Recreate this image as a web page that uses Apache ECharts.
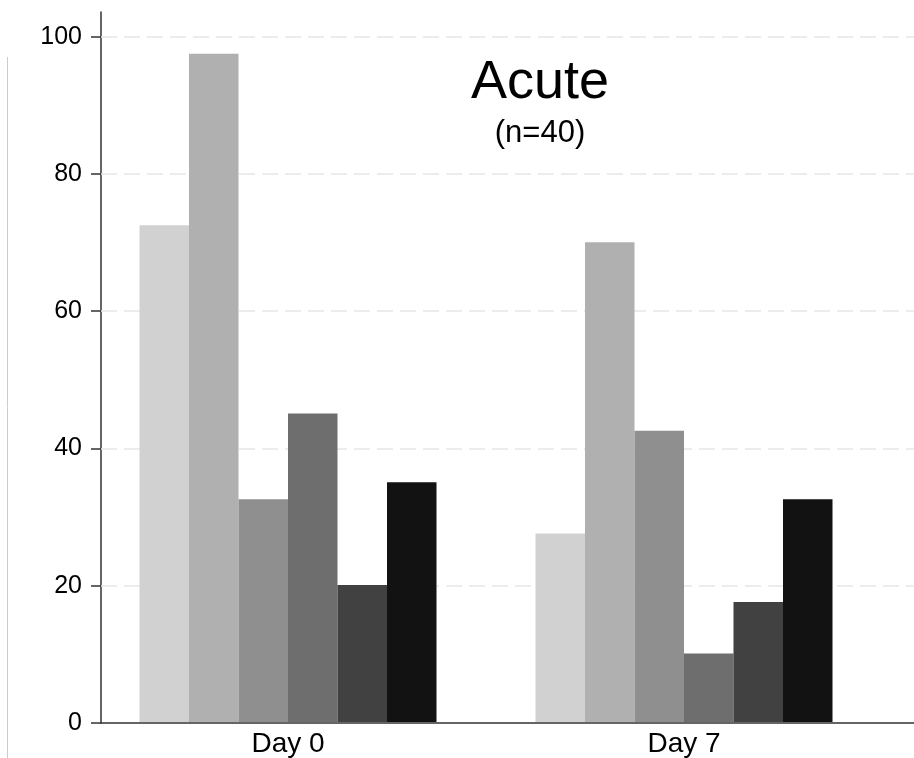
<!DOCTYPE html>
<html>
<head>
<meta charset="utf-8">
<script src="https://cdn.jsdelivr.net/npm/echarts@6/dist/echarts.min.js"></script>
<style>html,body{margin:0;padding:0;background:#fff}#c{width:914px;height:758px}</style>
</head>
<body>
<div id="c"></div>
<script>
const categories = ['Day 0', 'Day 7'];
const seriesNames = ['S1', 'S2', 'S3', 'S4', 'S5', 'S6'];
const s1 = [72.5, 27.5];
const s2 = [97.5, 70];
const s3 = [32.5, 42.5];
const s4 = [45, 10];
const s5 = [20, 17.5];
const s6 = [35, 32.5];
const yTicks = [0, 20, 40, 60, 80, 100];
const colors = ['#d1d1d1', '#b0b0b0', '#8f8f8f', '#6e6e6e', '#414141', '#121212'];
const seriesValues = [s1, s2, s3, s4, s5, s6];

const FONT = 'Liberation Sans, Arial, sans-serif';
const YMAX = 103.6;
const chart = echarts.init(document.getElementById('c'), null, {renderer: 'canvas'});

const barSeries = seriesValues.map((vals, i) => ({
  name: seriesNames[i],
  type: 'bar',
  xAxisIndex: 1,
  yAxisIndex: 1,
  z: 3,
  data: vals,
  barGap: '0%',
  barCategoryGap: '25%',
  itemStyle: {color: colors[i]}
}));

const gridSeries = {
  name: 'grid',
  type: 'line',
  xAxisIndex: 0,
  yAxisIndex: 0,
  z: 1,
  data: [],
  silent: true,
  markLine: {
    silent: true,
    symbol: 'none',
    z: 1,
    label: {show: false},
    lineStyle: {color: '#e6e6e6', type: [16, 7], width: 1.5},
    data: yTicks.filter(v => v > 0).map(v => ({yAxis: v}))
  }
};

chart.setOption({
  animation: false,
  backgroundColor: '#fff',
  title: {
    text: 'Acute',
    subtext: '(n=40)',
    left: 535,
    top: 51,
    textAlign: 'center',
    itemGap: 8,
    textStyle: {fontFamily: FONT, fontSize: 54, fontWeight: 'normal', color: '#000'},
    subtextStyle: {fontFamily: FONT, fontSize: 31, color: '#000'}
  },
  grid: [
    {left: 101, right: 0, top: 12, bottom: 35},
    {left: 90, right: 32, top: 12, bottom: 35}
  ],
  xAxis: [
    {gridIndex: 0, type: 'value', min: 0, max: 1,
     axisLine: {show: true, lineStyle: {color: '#333', width: 1.5}},
     axisTick: {show: false}, axisLabel: {show: false}, splitLine: {show: false}},
    {gridIndex: 1, type: 'category', data: categories,
     axisLine: {show: false}, axisTick: {show: false},
     axisLabel: {margin: 8, fontFamily: FONT, fontSize: 28, color: '#000'}}
  ],
  yAxis: [
    {gridIndex: 0, type: 'value', min: 0, max: YMAX, interval: 20,
     axisLine: {show: true, lineStyle: {color: '#333', width: 1.5}},
     axisTick: {show: true, length: 10, customValues: yTicks, lineStyle: {color: '#333', width: 1.5}},
     axisLabel: {margin: 19, customValues: yTicks, fontFamily: FONT, fontSize: 25, color: '#000'},
     splitLine: {show: false}},
    {gridIndex: 1, type: 'value', min: 0, max: YMAX, show: false, splitLine: {show: false}}
  ],
  graphic: [
    {type: 'line', shape: {x1: 7.5, y1: 57, x2: 7.5, y2: 758}, style: {stroke: '#cccccc', lineWidth: 1}}
  ],
  series: [gridSeries].concat(barSeries)
});
</script>
</body>
</html>
